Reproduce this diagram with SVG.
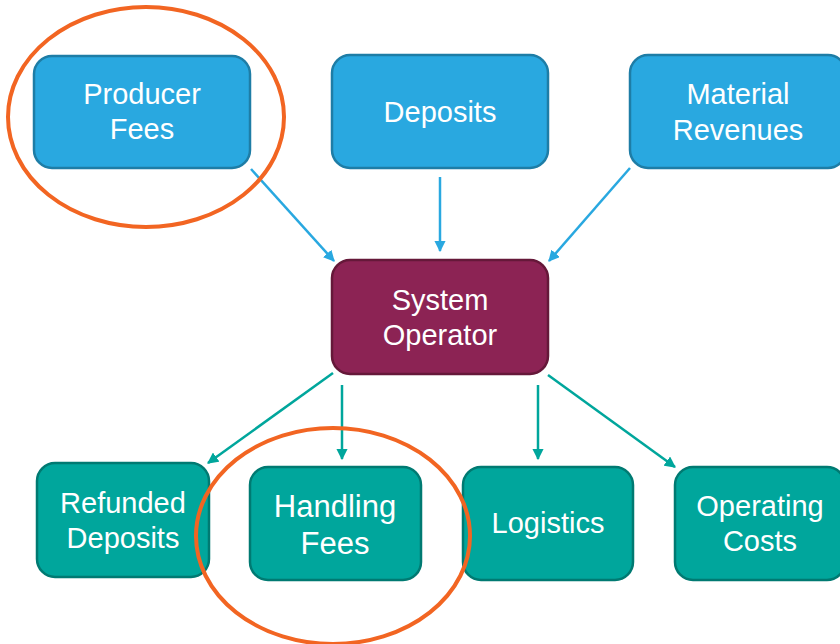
<svg xmlns="http://www.w3.org/2000/svg" width="840" height="644" viewBox="0 0 840 644">
<style>
.blue{fill:#29A8E0;stroke:#1E7DA6;stroke-width:2.5}
.plum{fill:#8C2354;stroke:#651839;stroke-width:2.5}
.teal{fill:#00A69C;stroke:#007A72;stroke-width:2.5}
text{font-family:"Liberation Sans",Arial,sans-serif;font-size:29px;fill:#FFFFFF;text-anchor:middle}
.cb{stroke:#29A8E0;stroke-width:2.5;fill:none}
.ct{stroke:#00A69C;stroke-width:2.5;fill:none}
.ring{fill:none;stroke:#F26522;stroke-width:4}
</style>
<defs>
<marker id="ab" viewBox="0 0 10 10" refX="9" refY="5" markerWidth="4.5" markerHeight="4.5" markerUnits="strokeWidth" orient="auto"><path d="M0,0 L10,5 L0,10 z" fill="#29A8E0"/></marker>
<marker id="at" viewBox="0 0 10 10" refX="9" refY="5" markerWidth="4.5" markerHeight="4.5" markerUnits="strokeWidth" orient="auto"><path d="M0,0 L10,5 L0,10 z" fill="#00A69C"/></marker>
</defs>
<rect width="840" height="644" fill="#FFFFFF"/>
<g id="connectors">
<line class="cb" x1="251" y1="169" x2="334" y2="261" marker-end="url(#ab)"/>
<line class="cb" x1="440" y1="177" x2="440" y2="251" marker-end="url(#ab)"/>
<line class="cb" x1="630" y1="168" x2="549" y2="261" marker-end="url(#ab)"/>
<line class="ct" x1="333" y1="373" x2="208" y2="463" marker-end="url(#at)"/>
<line class="ct" x1="342" y1="385" x2="342" y2="459" marker-end="url(#at)"/>
<line class="ct" x1="538" y1="385" x2="538" y2="459" marker-end="url(#at)"/>
<line class="ct" x1="548" y1="375" x2="675" y2="467" marker-end="url(#at)"/>
</g>
<g id="producer-fees">
<rect class="blue" x="34" y="56" width="216" height="112" rx="18"/>
<text x="142" y="104">Producer</text>
<text x="142" y="139">Fees</text>
</g>
<g id="deposits">
<rect class="blue" x="332" y="55" width="216" height="113" rx="18"/>
<text x="440" y="122">Deposits</text>
</g>
<g id="material-revenues">
<rect class="blue" x="630" y="55" width="216" height="113" rx="18"/>
<text x="738" y="104">Material</text>
<text x="738" y="140">Revenues</text>
</g>
<g id="system-operator">
<rect class="plum" x="332" y="260" width="216" height="114" rx="18"/>
<text x="440" y="310">System</text>
<text x="440" y="345">Operator</text>
</g>
<g id="refunded-deposits">
<rect class="teal" x="37" y="463" width="172" height="114" rx="18"/>
<text x="123" y="513">Refunded</text>
<text x="123" y="548">Deposits</text>
</g>
<g id="handling-fees">
<rect class="teal" x="250" y="467" width="171" height="113" rx="18"/>
<text x="335" y="517" style="font-size:31px">Handling</text>
<text x="335" y="554" style="font-size:31px">Fees</text>
</g>
<g id="logistics">
<rect class="teal" x="463" y="467" width="170" height="113" rx="18"/>
<text x="548" y="533">Logistics</text>
</g>
<g id="operating-costs">
<rect class="teal" x="675" y="467" width="170" height="113" rx="18"/>
<text x="760" y="516">Operating</text>
<text x="760" y="551">Costs</text>
</g>
<g id="highlights">
<ellipse class="ring" cx="146" cy="117" rx="138" ry="110"/>
<ellipse class="ring" cx="333" cy="536" rx="137" ry="108"/>
</g>
</svg>
